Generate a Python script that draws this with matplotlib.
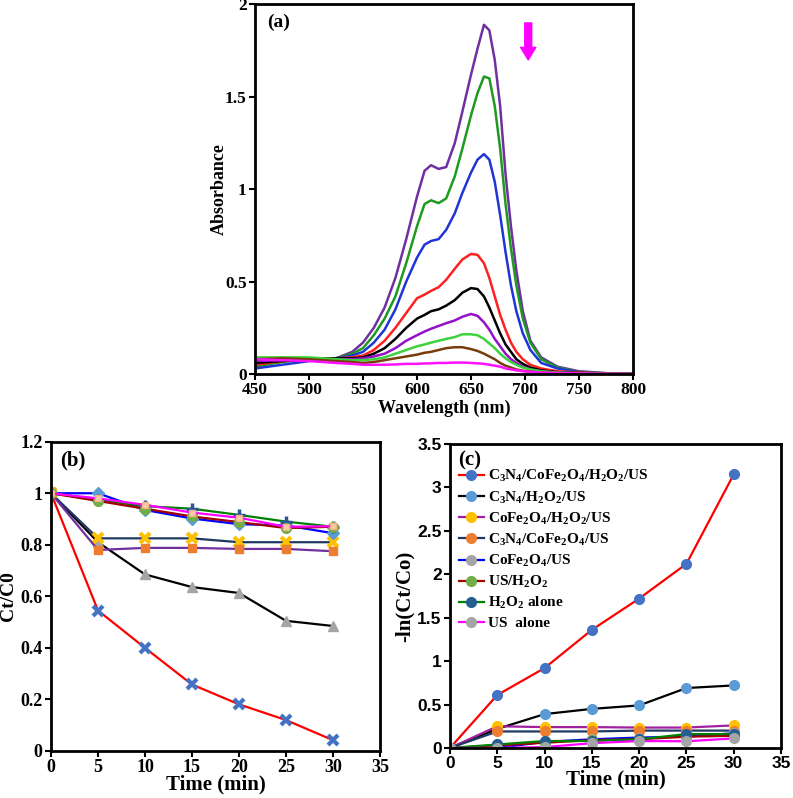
import numpy as np
import matplotlib.pyplot as plt

plt.rcParams['font.family'] = 'Liberation Serif'
plt.rcParams['font.weight'] = 'bold'
plt.rcParams['axes.labelweight'] = 'bold'
plt.rcParams['mathtext.fontset'] = 'custom'
plt.rcParams['mathtext.rm'] = 'Liberation Serif:bold'
plt.rcParams['mathtext.it'] = 'Liberation Serif:bold'
plt.rcParams['mathtext.bf'] = 'Liberation Serif:bold'

# ---- (a) UV-vis spectra ----
wl = [450, 475, 500, 525, 540, 550, 560, 570, 580, 590, 600, 607, 613, 620, 627, 635, 642,
      650, 656, 662, 667, 672, 677, 682, 687, 692, 698, 705, 715, 730, 750, 775, 800]
abs_purple = [.06, .075, .08, .085, .12, .17, .25, .36, .52, .73, .96, 1.10, 1.13, 1.11, 1.12, 1.25, 1.42,
              1.62, 1.76, 1.89, 1.86, 1.70, 1.45, 1.08, .80, .56, .34, .18, .09, .04, .015, .005, 0]
abs_green = [.04, .065, .08, .085, .11, .14, .21, .30, .42, .60, .80, .92, .94, .925, .95, 1.07, 1.22,
             1.40, 1.52, 1.61, 1.60, 1.45, 1.22, .92, .68, .48, .30, .17, .08, .035, .012, .004, 0]
abs_blue = [.03, .05, .07, .085, .10, .12, .17, .24, .35, .50, .63, .70, .72, .73, .78, .87, .98,
            1.09, 1.16, 1.19, 1.16, 1.04, .86, .66, .48, .34, .22, .13, .06, .03, .01, .003, 0]
abs_red = [.05, .07, .08, .085, .09, .10, .13, .18, .25, .33, .41, .43, .45, .47, .51, .57, .62,
           .65, .645, .60, .52, .42, .32, .24, .17, .12, .08, .05, .03, .015, .008, .003, 0]
abs_black = [.06, .07, .08, .085, .085, .09, .11, .14, .19, .25, .30, .32, .34, .35, .37, .40, .44,
             .465, .46, .42, .36, .29, .22, .16, .12, .08, .055, .035, .02, .01, .005, .002, 0]
abs_violet = [.07, .075, .08, .08, .08, .085, .095, .11, .14, .18, .21, .23, .245, .26, .275, .29, .31,
              .325, .315, .28, .24, .19, .15, .11, .08, .06, .04, .025, .015, .008, .004, .002, 0]
abs_lgreen = [.09, .09, .09, .08, .075, .075, .08, .09, .11, .13, .15, .16, .17, .18, .19, .20, .215,
              .215, .21, .19, .165, .14, .11, .085, .065, .05, .035, .025, .015, .008, .004, .002, 0]
abs_brown = [.08, .085, .08, .07, .065, .06, .065, .075, .085, .095, .105, .115, .12, .13, .14, .145, .145,
             .135, .125, .11, .095, .08, .06, .045, .035, .025, .018, .012, .008, .005, .003, .001, 0]
abs_magenta = [.08, .075, .07, .06, .055, .05, .05, .05, .052, .055, .055, .057, .058, .06, .06, .062, .062,
               .06, .058, .055, .05, .045, .04, .03, .025, .02, .015, .012, .008, .005, .003, .001, 0]

# ---- (b) Ct/C0 vs time ----
time = [0, 5, 10, 15, 20, 25, 30]
ct_full = [1, 0.545, 0.40, 0.258, 0.181, 0.12, 0.042]
ct_c3n4_h2o2 = [1, 0.81, 0.685, 0.636, 0.613, 0.505, 0.485]
ct_c3n4_cofe = [1, 0.825, 0.825, 0.825, 0.81, 0.81, 0.81]
ct_cofe_h2o2 = [1, 0.78, 0.788, 0.788, 0.784, 0.784, 0.775]
ct_cofe = [1, 1.0, 0.935, 0.902, 0.88, 0.875, 0.845]
ct_h2o2 = [1, 0.975, 0.95, 0.94, 0.916, 0.89, 0.87]
ct_us_h2o2 = [1, 0.97, 0.94, 0.91, 0.888, 0.865, 0.87]
ct_us = [1, 0.98, 0.955, 0.925, 0.905, 0.87, 0.872]

# ---- (c) -ln(Ct/C0) vs time ----
ln_full = [0, 0.61, 0.92, 1.36, 1.72, 2.12, 3.15]
ln_c3n4_h2o2 = [0, 0.22, 0.39, 0.45, 0.49, 0.69, 0.72]
ln_cofe_h2o2 = [0, 0.25, 0.24, 0.24, 0.235, 0.235, 0.26]
ln_c3n4_cofe = [0, 0.19, 0.19, 0.19, 0.2, 0.2, 0.2]
ln_cofe = [0, 0.0, 0.07, 0.1, 0.12, 0.13, 0.17]
ln_us_h2o2 = [0, 0.03, 0.06, 0.09, 0.1, 0.13, 0.14]
ln_h2o2 = [0, 0.04, 0.08, 0.08, 0.1, 0.16, 0.16]
ln_us = [0, 0.0, 0.01, 0.055, 0.08, 0.077, 0.11]

labels_c = [r'C$_3$N$_4$/CoFe$_2$O$_4$/H$_2$O$_2$/US', r'C$_3$N$_4$/H$_2$O$_2$/US',
            r'CoFe$_2$O$_4$/H$_2$O$_2$/US', r'C$_3$N$_4$/CoFe$_2$O$_4$/US', r'CoFe$_2$O$_4$/US',
            r'US/H$_2$O$_2$', r'H$_2$O$_2$ alone', 'US  alone']


def frame(ax, size, family='Liberation Serif'):
    for s in ax.spines.values():
        s.set_linewidth(2)
    ax.tick_params(direction='out', length=4, width=1.5, top=False, right=False,
                   labelsize=size, pad=2)
    for t in ax.get_xticklabels() + ax.get_yticklabels():
        t.set_family(family)
        t.set_weight('bold')


fig = plt.figure(figsize=(7.93, 7.98), dpi=100)

# ================= (a) =================
ax = fig.add_axes([0.3216, 0.5313, 0.4766, 0.4631])
spectra = [(abs_purple, '#7030A0'), (abs_green, '#1E9A1E'), (abs_blue, '#1F35D6'),
           (abs_red, '#FF2020'), (abs_black, '#000000'), (abs_violet, '#9410C8'),
           (abs_lgreen, '#3CD23C'), (abs_brown, '#7A3C0A'), (abs_magenta, '#FF10FF')]
for a, c in spectra:
    ax.plot(wl, a, color=c, lw=1.8)
ax.set_xlim(450, 800)
ax.set_ylim(0, 2)
ax.set_xticks(range(450, 801, 50))
ax.set_yticks([0, 0.5, 1, 1.5, 2])
ax.set_yticklabels(['0', '0.5', '1', '1.5', '2'])
ax.set_xlabel('Wavelength (nm)', fontsize=13, labelpad=1)
ax.set_ylabel('Absorbance', fontsize=13)
ax.yaxis.set_label_coords(-0.071, 0.5)
ax.text(0.033, 0.975, '(a)', transform=ax.transAxes, fontsize=14, va='top')
ax.annotate('', xy=(703, 1.70), xytext=(703, 1.90),
            arrowprops=dict(facecolor='#FF00FF', edgecolor='#FF00FF', width=5,
                            headwidth=11, headlength=9))
frame(ax, 12.5)

# ================= (b) =================
ax = fig.add_axes([0.0643, 0.0589, 0.4149, 0.3876])
ax.plot(time, ct_full, color='red', lw=1.6, marker='x', ms=7, mew=3, mec='#4472C4')
ax.plot(time, ct_c3n4_h2o2, color='black', lw=1.6, marker='^', ms=7, mfc='#A5A5A5', mec='#A5A5A5')
ax.plot(time, ct_c3n4_cofe, color='#1F3864', lw=1.6, marker='x', ms=7, mew=3, mec='#FFC000')
ax.plot(time, ct_cofe_h2o2, color='#7030A0', lw=1.6, marker='s', ms=6, mfc='#ED7D31', mec='#ED7D31')
ax.plot(time, ct_cofe, color='#0000FF', lw=1.6, marker='D', ms=6, mfc='#5B9BD5', mec='#5B9BD5')
ax.plot(time, ct_h2o2, color='#008000', lw=1.6, marker='+', ms=8, mew=2.5, mec='#2F5597')
ax.plot(time, ct_us_h2o2, color='#A00000', lw=1.6, marker='o', ms=7, mfc='#70AD47', mec='#70AD47')
ax.plot(time, ct_us, color='#FF00FF', lw=1.6, marker='s', ms=4, mfc='#F8CBAD', mec='#F4B183')
ax.set_xlim(0, 35)
ax.set_ylim(0, 1.2)
ax.set_xticks(range(0, 36, 5))
ax.set_yticks([0, 0.2, 0.4, 0.6, 0.8, 1, 1.2])
ax.set_yticklabels(['0', '0.2', '0.4', '0.6', '0.8', '1', '1.2'])
ax.set_xlabel('Time (min)', fontsize=15, labelpad=-1)
ax.set_ylabel('Ct/C0', fontsize=14)
ax.yaxis.set_label_coords(-0.103, 0.5)
ax.text(0.027, 0.973, '(b)', transform=ax.transAxes, fontsize=15, va='top')
frame(ax, 13)

# ================= (c) =================
ax = fig.add_axes([0.5675, 0.0627, 0.4174, 0.3810])
series_c = [(ln_full, 'red', '#4472C4'), (ln_c3n4_h2o2, 'black', '#5B9BD5'),
            (ln_cofe_h2o2, '#A020A0', '#FFC000'), (ln_c3n4_cofe, '#1F3864', '#ED7D31'),
            (ln_cofe, '#0000FF', '#A5A5A5'), (ln_us_h2o2, '#A00000', '#70AD47'),
            (ln_h2o2, '#008000', '#255E91'), (ln_us, '#FF00FF', '#A5A5A5')]
for (v, lc, mc), lab in zip(series_c, labels_c):
    ax.plot(time, v, color=lc, lw=1.6, marker='o', ms=7, mfc=mc, mec=mc, label=lab)
ax.set_xlim(0, 35)
ax.set_ylim(0, 3.5)
ax.set_xticks(range(0, 36, 5))
ax.set_yticks([0, 0.5, 1, 1.5, 2, 2.5, 3, 3.5])
ax.set_yticklabels(['0', '0.5', '1', '1.5', '2', '2.5', '3', '3.5'])
ax.set_xlabel('Time (min)', fontsize=15, labelpad=-1)
ax.set_ylabel('-ln(Ct/Co)', fontsize=15)
ax.yaxis.set_label_coords(-0.106, 0.5)
ax.text(0.024, 0.98, '(c)', transform=ax.transAxes, fontsize=15, va='top')
ax.legend(loc='upper left', bbox_to_anchor=(0.0, 0.95), frameon=False, fontsize=11,
          handlelength=1.6, handletextpad=0.3, labelspacing=0.33, borderaxespad=0.2)
frame(ax, 12.5, 'Liberation Sans')

fig.savefig('out.png', dpi=100)
